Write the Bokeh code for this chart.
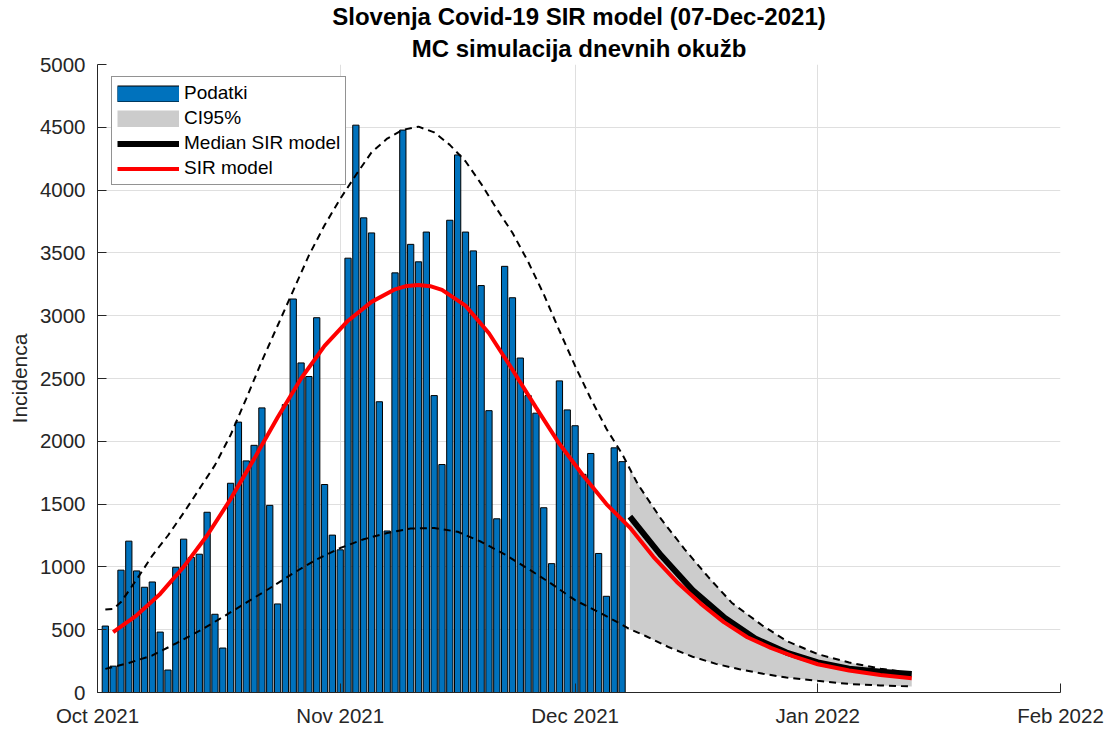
import pandas as pd
from bokeh.plotting import figure
from bokeh.models import (Legend, LegendItem, FixedTicker, Title, Range1d)
from bokeh.embed import file_html
from bokeh.resources import INLINE

# ---------------- data ----------------
axis_start = "2021-10-01"
axis_end = "2022-02-01"
tick_dates = ["2021-10-01", "2021-11-01", "2021-12-01", "2022-01-01", "2022-02-01"]
tick_labels = ["Oct 2021", "Nov 2021", "Dec 2021", "Jan 2022", "Feb 2022"]
y_ticks = [0, 500, 1000, 1500, 2000, 2500, 3000, 3500, 4000, 4500, 5000]

first_data_date = "2021-10-02"
incidence = [529, 210, 974, 1205, 968, 838, 880, 481, 179, 997,
             1221, 1075, 1101, 1435, 623, 354, 1666, 2153, 1844, 1968,
             2266, 1490, 705, 2292, 3133, 2624, 2516, 2984, 1656, 1253,
             1136, 3458, 4517, 3779, 3659, 2315, 1286, 3341, 4478, 3568,
             3429, 3666, 2364, 1815, 3760, 4280, 3666, 3516, 3240, 2244,
             1383, 3393, 3143, 2663, 2364, 2224, 1471, 1026, 2481, 2250,
             2124, 1737, 1903, 1107, 766, 1948, 1838]

# curves: day offsets from axis_start
upper_days = [1, 2, 3, 5, 7, 9, 11, 13, 15, 17, 19, 21, 23, 25, 27, 29, 31, 33, 35, 37, 39,
              41, 43, 45, 47, 49, 51, 53, 55, 57, 59, 61, 63, 65, 67, 68, 69, 72, 75, 78,
              81, 85, 88, 92, 96, 100, 104]
upper_vals = [660, 665, 720, 900, 1090, 1250, 1430, 1620, 1810, 2050, 2340, 2640, 2920, 3200,
              3480, 3720, 3930, 4120, 4300, 4410, 4480, 4505, 4460, 4360, 4230, 4050, 3850,
              3660, 3430, 3170, 2880, 2600, 2340, 2100, 1900, 1780, 1660, 1380, 1140, 920,
              715, 530, 411, 305, 239, 190, 155]

lower_days = [1, 4, 7, 10, 13, 16, 19, 22, 25, 28, 31, 34, 37, 40, 43, 46, 49, 52, 55, 58,
              61, 64, 67, 68, 70, 73, 76, 79, 82, 85, 88, 92, 96, 100, 104]
lower_vals = [188, 235, 295, 390, 490, 600, 715, 830, 950, 1060, 1150, 1220, 1270, 1305,
              1310, 1280, 1200, 1100, 985, 865, 735, 640, 540, 504, 450, 360, 285, 228, 185,
              150, 119, 93, 68, 56, 48]

sir_days = [2, 5, 8, 11, 14, 17, 20, 23, 26, 29, 32, 35, 38, 39.5, 41, 42.5, 44, 47, 50,
            53, 56, 59, 62, 65, 68, 71, 74, 77, 80, 83, 86, 89, 92, 96, 100, 104]
sir_vals = [480, 615, 785, 1000, 1250, 1540, 1860, 2190, 2500, 2760, 2960, 3110, 3210,
            3237, 3245, 3235, 3205, 3080, 2860, 2570, 2270, 1980, 1730, 1500, 1313, 1080,
            880, 710, 560, 440, 355, 285, 225, 175, 140, 114]

median_days = [68, 72, 76, 80, 84, 88, 92, 96, 100, 104]
median_vals = [1400, 1090, 815, 600, 430, 318, 239, 190, 165, 148]

ci_start_day = 68

# ---------------- derived ----------------
t0 = pd.Timestamp(axis_start)
x_end = (pd.Timestamp(axis_end) - t0).days
tick_pos = [(pd.Timestamp(d) - t0).days for d in tick_dates]
off0 = (pd.Timestamp(first_data_date) - t0).days
bar_x = [off0 + i for i in range(len(incidence))]

band_up = [(d, v) for d, v in zip(upper_days, upper_vals) if d >= ci_start_day]
band_lo = [(d, v) for d, v in zip(lower_days, lower_vals) if d >= ci_start_day]
band_x = [d for d, _ in band_up] + [d for d, _ in reversed(band_lo)]
band_y = [v for _, v in band_up] + [v for _, v in reversed(band_lo)]

FONT = "Liberation Sans"
AX = "#262626"
BLUE = "#0072BD"
GRAY = "#CCCCCC"
NAN = float("nan")

p = figure(width=1111, height=729, output_backend="svg", toolbar_location=None,
           title=None, x_range=Range1d(0, x_end), y_range=Range1d(0, 5000),
           min_border_left=97, min_border_right=51, min_border_top=64,
           min_border_bottom=30)
p.outline_line_color = None
p.background_fill_color = "white"

bars = p.vbar(x=bar_x, top=incidence, width=0.8, fill_color=BLUE,
              line_color="#000000", line_width=1)
band = p.patch(band_x, band_y, fill_color=GRAY, line_color=None)
p.line(upper_days, upper_vals, line_color="black", line_width=2, line_dash="7 5")
p.line(lower_days, lower_vals, line_color="black", line_width=2, line_dash="7 5")
med = p.line(median_days, median_vals, line_color="black", line_width=6)
sir = p.line(sir_days, sir_vals, line_color="#FF0000", line_width=4)

# legend swatches (NaN-only renderers: nothing drawn in the plot, full-size swatch)
sw_bar_edge = p.line(x=[NAN], y=[NAN], line_color="#000000", line_width=17)
sw_bar_fill = p.line(x=[NAN], y=[NAN], line_color=BLUE, line_width=15)
sw_ci = p.line(x=[NAN], y=[NAN], line_color=GRAY, line_width=17)

# axes
p.xaxis.ticker = FixedTicker(ticks=tick_pos)
p.xaxis.major_label_overrides = {pos: lab for pos, lab in zip(tick_pos, tick_labels)}
p.yaxis.ticker = FixedTicker(ticks=y_ticks)
for ax in (p.xaxis[0], p.yaxis[0]):
    ax.axis_line_color = AX
    ax.axis_line_width = 1
    ax.major_tick_line_color = AX
    ax.major_tick_in = 9
    ax.major_tick_out = 0
    ax.minor_tick_line_color = None
    ax.major_label_text_font = FONT
    ax.major_label_text_font_size = "20.5px"
    ax.major_label_text_color = AX
p.xaxis.major_label_standoff = 11
p.yaxis.major_label_standoff = 12
p.yaxis.axis_label = "Incidenca"
p.yaxis.axis_label_text_font = FONT
p.yaxis.axis_label_text_font_size = "21px"
p.yaxis.axis_label_text_font_style = "normal"
p.yaxis.axis_label_text_color = AX
p.yaxis.axis_label_standoff = 6

p.xgrid.grid_line_color = "#DFDFDF"
p.ygrid.grid_line_color = "#DFDFDF"

# titles (subtitle first so it sits closest to the plot)
t2 = Title(text="MC simulacija dnevnih okužb", align="center", text_font=FONT,
           text_font_size="24px", text_font_style="bold", text_color="#000000",
           standoff=6)
p.add_layout(t2, "above")
t1 = Title(text="Slovenja Covid-19 SIR model (07-Dec-2021)", align="center",
           text_font=FONT, text_font_size="24px", text_font_style="bold",
           text_color="#000000", standoff=0)
p.add_layout(t1, "above")

legend = Legend(items=[LegendItem(label="Podatki", renderers=[sw_bar_edge, sw_bar_fill]),
                       LegendItem(label="CI95%", renderers=[sw_ci]),
                       LegendItem(label="Median SIR model", renderers=[med]),
                       LegendItem(label="SIR model", renderers=[sir])],
                location=(14, 507), orientation="vertical",
                border_line_color=AX, border_line_width=1,
                background_fill_color="white", background_fill_alpha=1.0,
                label_text_font=FONT, label_text_font_size="19px",
                label_text_color="#000000", glyph_width=62, glyph_height=17,
                label_standoff=5, padding=5, spacing=3, margin=0)
p.add_layout(legend, "center")

open("out.html", "w").write(file_html(p, INLINE))
